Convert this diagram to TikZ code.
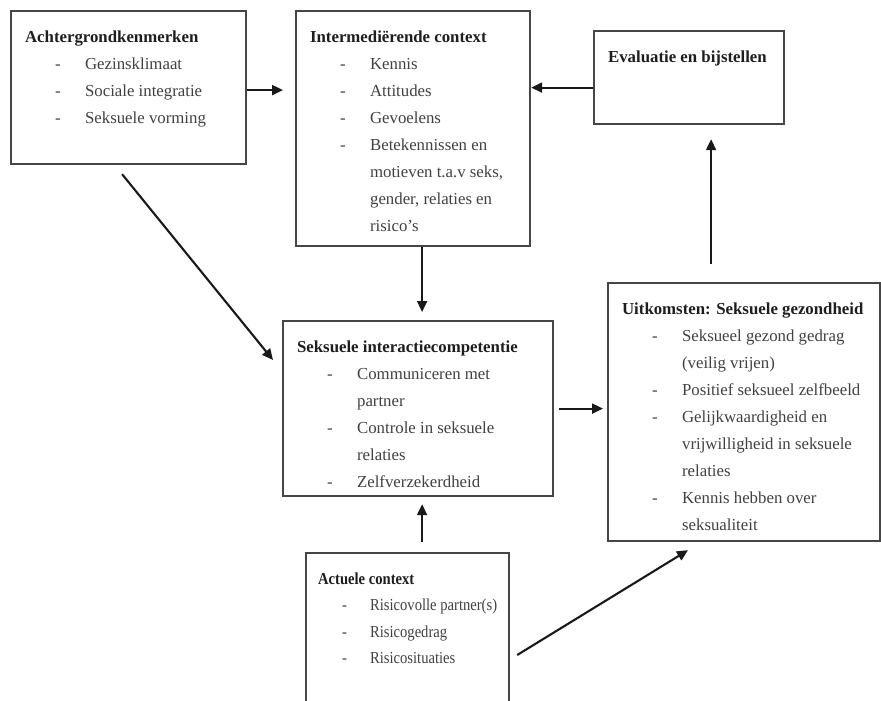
\documentclass[tikz,border=0pt]{standalone}
\usepackage{fontspec}
\setmainfont{Liberation Serif}
\newfontfamily\narrowserif[FakeStretch=0.87]{Liberation Serif}
\usepackage{tikz}
\usetikzlibrary{arrows.meta,positioning}
\usepackage{xcolor}
\definecolor{boxgray}{RGB}{70,70,70}
\definecolor{headgray}{RGB}{30,30,30}
\definecolor{itemgray}{RGB}{65,65,65}
\definecolor{arrowgray}{RGB}{25,25,25}
\tikzstyle{block} = [rectangle, draw=boxgray, line width=2.2pt, inner sep=0pt, anchor=north west, font=\fontsize{16.8}{27}\selectfont]
\tikzstyle{arrow} = [line width=2.1pt, -{Triangle[length=11pt,width=10pt]}, draw=arrowgray]
\newlength{\kopind}\setlength{\kopind}{14pt}
\newlength{\dashind}\setlength{\dashind}{44pt}
\newlength{\itemind}\setlength{\itemind}{74pt}
\newcommand{\kop}[1]{\rule{0pt}{31pt}\hspace*{\kopind}\textcolor{headgray}{\textbf{#1}}}
\newcommand{\dashitem}[1]{\par\makebox[\itemind][l]{\hspace*{\dashind}-}\mbox{#1}}
\newcommand{\dashcont}[1]{\par\hspace*{\itemind}\mbox{#1}}
\newcommand{\boxtext}[3]{\parbox[c][#2pt][t]{#1pt}{\color{itemgray}#3}}

\begin{document}
\begin{tikzpicture}[x=1pt, y=-1pt]
\useasboundingbox (0,0) rectangle (881,701);
\clip (0,0) rectangle (881,701);
% Boxes
\node[block] (achter) at (10,10) {\boxtext{235}{153}{\kop{Achtergrondkenmerken}
  \dashitem{Gezinsklimaat}\dashitem{Sociale integratie}\dashitem{Seksuele vorming}}};
\node[block] (inter) at (295,10) {\boxtext{234}{235}{\kop{Intermediërende context}
  \dashitem{Kennis}\dashitem{Attitudes}\dashitem{Gevoelens}
  \dashitem{Betekennissen en}\dashcont{motieven t.a.v seks,}\dashcont{gender, relaties en}\dashcont{risico’s}}};
\node[block] (eval) at (593,30) {\boxtext{190}{93}{\kop{Evaluatie en bijstellen}}};
\node[block] (seks) at (282,320) {\boxtext{270}{175}{\kop{Seksuele interactiecompetentie}
  \dashitem{Communiceren met}\dashcont{partner}
  \dashitem{Controle in seksuele}\dashcont{relaties}
  \dashitem{Zelfverzekerdheid}}};
\node[block] (uitk) at (607,282) {\boxtext{272}{258}{\kop{Uitkomsten: Seksuele gezondheid}
  \dashitem{Seksueel gezond gedrag}\dashcont{(veilig vrijen)}
  \dashitem{Positief seksueel zelfbeeld}
  \dashitem{Gelijkwaardigheid en}\dashcont{vrijwilligheid in seksuele}\dashcont{relaties}
  \dashitem{Kennis hebben over}\dashcont{seksualiteit}}};
\node[block, font=\narrowserif\fontsize{16.8}{26.5}\selectfont] (actu) at (305,552) {\boxtext{203}{180}{%
  \setlength{\kopind}{12pt}\setlength{\dashind}{36pt}\setlength{\itemind}{64pt}%
  \kop{Actuele context}
  \dashitem{Risicovolle partner(s)}\dashitem{Risicogedrag}\dashitem{Risicosituaties}}};

% Arrows
\draw[arrow, shorten >=12pt] ([yshift=-2.5pt]achter.east) -- ([yshift=-2.5pt]achter.east -| inter.west);
\draw[arrow] ([yshift=-10pt]eval.west) -- ([yshift=-10pt]eval.west -| inter.east);
\draw[arrow, shorten >=8pt] ([xshift=9pt]inter.south) -- ([xshift=4pt]seks.north);
\draw[arrow, shorten <=10pt, shorten >=7pt] ([xshift=14.5pt]actu.north) -- ([xshift=4pt]seks.south);
\draw[arrow, shorten <=5pt, shorten >=4pt] (seks.east) -- (seks.east -| uitk.west);
\draw[arrow, shorten <=18pt, shorten >=14pt] ([xshift=-33pt]uitk.north) -- ([xshift=22pt]eval.south);
\draw[arrow] ([shift={(7,103)}]actu.north east) -- ([shift={(81,8)}]uitk.south west);
\draw[arrow] ([shift={(-6.5,9)}]achter.south) -- ([shift={(-9,40)}]seks.north west);
\end{tikzpicture}
\end{document}
